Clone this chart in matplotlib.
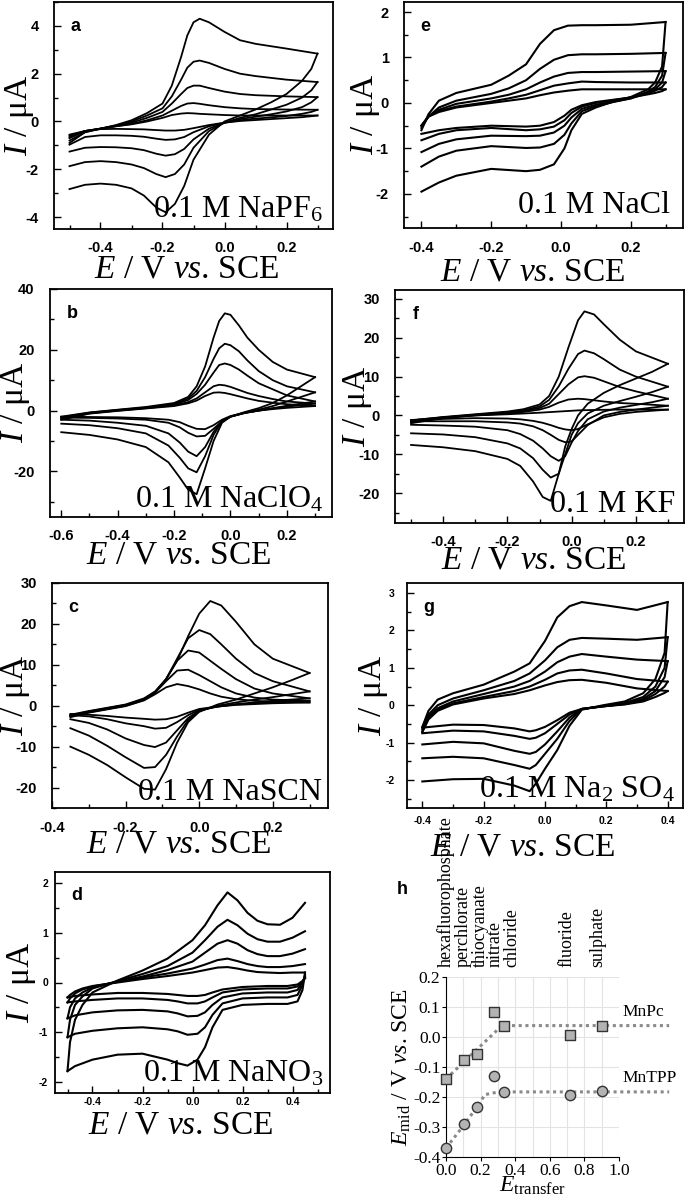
import matplotlib
matplotlib.use('Agg')
import matplotlib.pyplot as plt
from matplotlib.ticker import MultipleLocator, FormatStrFormatter

plt.rcParams['font.family'] = ['Liberation Sans', 'DejaVu Sans']
plt.rcParams['mathtext.fontset'] = 'custom'
plt.rcParams['mathtext.rm'] = 'Liberation Serif'
plt.rcParams['mathtext.it'] = 'Liberation Serif:italic'
plt.rcParams['axes.unicode_minus'] = False

# ---- panel a : 0.1 M NaPF6 ----
a_e_fwd = [-0.5, -0.45, -0.4, -0.35, -0.3, -0.25, -0.2, -0.17, -0.14, -0.12, -0.1, -0.08, -0.05, 0.0, 0.05, 0.1, 0.2, 0.3]
a_i_fwd = [
    [-0.9, -0.45, -0.3, -0.15, 0.05, 0.35, 0.75, 1.5, 2.7, 3.6, 4.15, 4.3, 4.15, 3.75, 3.4, 3.25, 3.05, 2.84],
    [-0.8, -0.45, -0.3, -0.17, 0.0, 0.25, 0.55, 1.05, 1.75, 2.25, 2.5, 2.55, 2.45, 2.2, 2.0, 1.9, 1.75, 1.65],
    [-0.7, -0.4, -0.3, -0.18, -0.05, 0.15, 0.4, 0.75, 1.15, 1.4, 1.5, 1.5, 1.4, 1.25, 1.15, 1.1, 1.05, 1.02],
    [-0.6, -0.4, -0.3, -0.2, -0.1, 0.05, 0.25, 0.45, 0.65, 0.75, 0.77, 0.74, 0.68, 0.6, 0.55, 0.52, 0.5, 0.49],
    [-0.55, -0.4, -0.3, -0.2, -0.12, 0.0, 0.15, 0.27, 0.33, 0.35, 0.34, 0.32, 0.3, 0.27, 0.25, 0.25, 0.25, 0.25],
]
a_e_rev = [0.3, 0.28, 0.25, 0.2, 0.15, 0.1, 0.05, 0.0, -0.05, -0.1, -0.13, -0.16, -0.19, -0.22, -0.26, -0.3, -0.35, -0.4, -0.45, -0.5]
a_i_rev = [
    [2.84, 2.2, 1.7, 1.15, 0.8, 0.5, 0.25, 0.0, -0.55, -1.6, -2.7, -3.45, -3.8, -3.6, -3.1, -2.8, -2.65, -2.6, -2.65, -2.83],
    [1.65, 1.3, 1.0, 0.7, 0.5, 0.3, 0.15, -0.05, -0.4, -1.1, -1.8, -2.2, -2.33, -2.2, -1.95, -1.8, -1.7, -1.66, -1.7, -1.87],
    [1.02, 0.8, 0.6, 0.42, 0.3, 0.2, 0.1, -0.05, -0.3, -0.75, -1.15, -1.37, -1.43, -1.35, -1.2, -1.12, -1.08, -1.07, -1.1, -1.26],
    [0.49, 0.4, 0.32, 0.23, 0.17, 0.12, 0.05, -0.05, -0.2, -0.45, -0.65, -0.75, -0.77, -0.72, -0.64, -0.6, -0.58, -0.58, -0.65, -0.97],
    [0.25, 0.22, 0.18, 0.14, 0.1, 0.06, 0.02, -0.05, -0.15, -0.28, -0.35, -0.38, -0.38, -0.36, -0.33, -0.32, -0.31, -0.32, -0.4, -0.66],
]

# ---- panel b : 0.1 M NaClO4 ----
b_e_fwd = [-0.6, -0.5, -0.4, -0.3, -0.2, -0.15, -0.12, -0.09, -0.06, -0.04, -0.02, 0.0, 0.03, 0.06, 0.1, 0.15, 0.2, 0.3]
b_i_fwd = [
    [-2.0, -0.6, 0.3, 1.2, 2.5, 4.5, 8, 14.5, 24, 29.5, 32, 31.5, 28, 24, 20, 16, 13.5, 11],
    [-2.2, -0.7, 0.2, 1.0, 2.2, 4, 6.5, 11, 17, 20.5, 22, 21.5, 19.5, 16.5, 13, 10, 8, 6],
    [-2.5, -0.8, 0.1, 0.9, 2, 3.5, 5.5, 8.5, 12.5, 15, 15.5, 15, 13.5, 11.5, 9, 7, 5, 3],
    [-2.8, -0.9, 0.0, 0.8, 1.7, 2.8, 4, 6, 8, 8.5, 8.3, 7.8, 6.8, 5.8, 4.8, 3.8, 3, 2.3],
    [-3.0, -1.0, -0.1, 0.7, 1.5, 2.4, 3.3, 4.8, 5.9, 6.0, 5.8, 5.4, 4.7, 4, 3.2, 2.6, 2.1, 1.5],
]
b_e_rev = [0.3, 0.25, 0.2, 0.15, 0.1, 0.05, 0.0, -0.03, -0.06, -0.09, -0.12, -0.15, -0.18, -0.22, -0.3, -0.4, -0.5, -0.6]
b_i_rev = [
    [11, 8, 5, 2.5, 0.8, -0.5, -2, -4, -10, -19, -27.5, -26, -22, -17, -12, -9.5, -8, -7.1],
    [6, 4.5, 3, 1.5, 0.3, -0.7, -2, -3.5, -8, -15, -20.3, -19, -15.5, -11.5, -7.5, -5.8, -4.8, -4.3],
    [3, 2.3, 1.6, 0.8, 0, -0.8, -2, -3.5, -7, -12, -15, -13.5, -10.5, -7.5, -5, -4, -3.3, -3],
    [2.3, 1.8, 1.3, 0.7, 0, -0.8, -2, -3.5, -6, -8.3, -8.5, -7.3, -5.5, -4, -3, -2.6, -2.4, -2.3],
    [1.5, 1.2, 0.9, 0.5, 0, -0.7, -1.8, -3, -4.8, -6.1, -6, -5, -3.8, -3, -2.5, -2.2, -2.1, -2.0],
]

# ---- panel c : 0.1 M NaSCN ----
c_e_fwd = [-0.35, -0.3, -0.25, -0.2, -0.15, -0.12, -0.09, -0.06, -0.03, 0.0, 0.03, 0.06, 0.1, 0.15, 0.2, 0.3]
c_i_fwd = [
    [-2.2, -1.3, -0.5, 0.3, 1.8, 3.5, 6.5, 11, 17, 22.5, 25.6, 24.5, 20.5, 15, 11.5, 8],
    [-2.4, -1.4, -0.6, 0.2, 1.6, 3.3, 6.5, 11.5, 16.5, 18.5, 17.5, 15, 11.5, 8, 6, 3.5],
    [-2.5, -1.5, -0.7, 0.1, 1.5, 3.2, 6.5, 11, 13.5, 13, 11, 9, 6.5, 4.2, 3, 1.8],
    [-2.6, -1.6, -0.8, 0.0, 1.4, 3.2, 6, 8.6, 8.8, 7.5, 6, 4.5, 3, 2, 1.5, 1.2],
    [-2.8, -1.7, -0.9, -0.1, 1.3, 2.8, 4.5, 5.3, 4.8, 4, 3, 2.2, 1.6, 1.2, 1.0, 0.8],
]
c_e_rev = [0.3, 0.25, 0.2, 0.15, 0.1, 0.05, 0.0, -0.03, -0.06, -0.09, -0.12, -0.15, -0.2, -0.25, -0.3, -0.35]
c_i_rev = [
    [8, 6.2, 4.5, 3, 1.5, 0.3, -1.5, -4, -9, -15.5, -20.5, -20.3, -17.5, -14.5, -12, -10],
    [3.5, 2.8, 2.1, 1.5, 0.8, 0.0, -1.3, -3.5, -7.5, -12, -15, -15.2, -12.6, -9.8, -7.3, -5.5],
    [1.8, 1.5, 1.2, 0.8, 0.4, -0.2, -1.2, -3, -6, -9, -10.1, -9.6, -8, -5.8, -4.2, -3.3],
    [1.2, 1.0, 0.8, 0.6, 0.3, -0.2, -1.0, -2.3, -4, -5.4, -5.6, -5.0, -4.3, -3.3, -2.6, -2.3],
    [0.8, 0.7, 0.6, 0.4, 0.2, -0.2, -0.8, -1.7, -2.7, -3.3, -3.4, -3.2, -2.9, -2.5, -2.2, -2.0],
]

# ---- panel d : 0.1 M NaNO3 ----
d_e_fwd = [-0.5, -0.49, -0.47, -0.44, -0.4, -0.3, -0.2, -0.1, 0.0, 0.05, 0.1, 0.14, 0.18, 0.22, 0.26, 0.3, 0.35, 0.4, 0.45]
d_i_fwd = [
    [-1.78, -1.2, -0.75, -0.45, -0.2, 0.04, 0.24, 0.48, 0.85, 1.15, 1.55, 1.81, 1.65, 1.4, 1.24, 1.17, 1.16, 1.3, 1.6],
    [-1.1, -0.75, -0.45, -0.28, -0.12, 0.03, 0.17, 0.33, 0.6, 0.85, 1.12, 1.26, 1.15, 0.98, 0.87, 0.82, 0.82, 0.9, 1.03],
    [-0.72, -0.5, -0.32, -0.2, -0.1, 0.02, 0.12, 0.25, 0.42, 0.6, 0.78, 0.85, 0.78, 0.65, 0.57, 0.53, 0.53, 0.58, 0.67],
    [-0.4, -0.32, -0.22, -0.14, -0.08, 0.01, 0.1, 0.18, 0.28, 0.36, 0.45, 0.48, 0.43, 0.37, 0.33, 0.31, 0.31, 0.33, 0.37],
    [-0.3, -0.25, -0.18, -0.12, -0.07, 0.0, 0.07, 0.13, 0.2, 0.25, 0.3, 0.31, 0.28, 0.24, 0.21, 0.2, 0.19, 0.2, 0.2],
]
d_e_rev = [0.45, 0.44, 0.42, 0.38, 0.3, 0.2, 0.12, 0.08, 0.05, 0.02, -0.02, -0.06, -0.1, -0.2, -0.3, -0.4, -0.47, -0.5]
d_i_rev = [
    [0.2, -0.15, -0.38, -0.43, -0.43, -0.45, -0.55, -0.9, -1.3, -1.55, -1.67, -1.62, -1.55, -1.43, -1.45, -1.55, -1.68, -1.78],
    [0.15, -0.05, -0.25, -0.3, -0.3, -0.32, -0.42, -0.65, -0.9, -1.03, -1.05, -0.98, -0.94, -0.9, -0.92, -0.97, -1.03, -1.1],
    [0.12, 0.0, -0.15, -0.2, -0.2, -0.22, -0.3, -0.45, -0.6, -0.67, -0.68, -0.62, -0.58, -0.55, -0.56, -0.6, -0.66, -0.72],
    [0.1, 0.02, -0.08, -0.12, -0.12, -0.14, -0.2, -0.3, -0.38, -0.42, -0.42, -0.38, -0.35, -0.32, -0.32, -0.35, -0.38, -0.4],
    [0.08, 0.03, -0.04, -0.07, -0.07, -0.09, -0.14, -0.2, -0.25, -0.27, -0.27, -0.25, -0.23, -0.21, -0.21, -0.24, -0.27, -0.3],
]

# ---- panel e : 0.1 M NaCl ----
e_e_fwd = [-0.4, -0.38, -0.35, -0.3, -0.2, -0.15, -0.1, -0.06, -0.02, 0.02, 0.06, 0.1, 0.2, 0.3]
e_i_fwd = [
    [-0.6, -0.25, 0.05, 0.22, 0.4, 0.6, 0.85, 1.3, 1.6, 1.7, 1.71, 1.71, 1.72, 1.78],
    [-0.55, -0.3, -0.1, 0.05, 0.2, 0.32, 0.5, 0.75, 0.95, 1.05, 1.07, 1.07, 1.08, 1.1],
    [-0.5, -0.3, -0.15, -0.02, 0.1, 0.18, 0.3, 0.45, 0.58, 0.66, 0.68, 0.68, 0.69, 0.7],
    [-0.5, -0.3, -0.18, -0.08, 0.03, 0.1, 0.18, 0.28, 0.38, 0.43, 0.47, 0.46, 0.45, 0.45],
    [-0.5, -0.3, -0.2, -0.1, 0.0, 0.05, 0.1, 0.17, 0.23, 0.27, 0.3, 0.3, 0.3, 0.3],
]
e_e_rev = [0.3, 0.29, 0.27, 0.25, 0.2, 0.15, 0.1, 0.06, 0.03, 0.01, -0.02, -0.06, -0.1, -0.2, -0.3, -0.35, -0.4]
e_i_rev = [
    [1.78, 0.8, 0.45, 0.3, 0.13, 0.03, -0.1, -0.24, -0.6, -1.0, -1.35, -1.47, -1.5, -1.45, -1.6, -1.75, -1.95],
    [1.1, 0.6, 0.35, 0.25, 0.1, 0.02, -0.07, -0.18, -0.45, -0.7, -0.9, -0.98, -0.99, -0.95, -1.05, -1.18, -1.4],
    [0.7, 0.45, 0.3, 0.22, 0.1, 0.03, -0.04, -0.13, -0.32, -0.5, -0.65, -0.72, -0.73, -0.72, -0.8, -0.9, -1.08],
    [0.45, 0.35, 0.27, 0.21, 0.12, 0.06, 0.0, -0.08, -0.22, -0.38, -0.52, -0.58, -0.6, -0.55, -0.6, -0.68, -0.82],
    [0.3, 0.26, 0.22, 0.19, 0.12, 0.07, 0.02, -0.05, -0.15, -0.28, -0.42, -0.5, -0.52, -0.5, -0.55, -0.6, -0.68],
]

# ---- panel f : 0.1 M KF ----
f_e_fwd = [-0.5, -0.4, -0.3, -0.2, -0.15, -0.1, -0.07, -0.04, -0.01, 0.02, 0.04, 0.07, 0.1, 0.15, 0.2, 0.3]
f_i_fwd = [
    [-1.3, -0.4, 0.3, 1.0, 1.6, 2.8, 5, 10, 17.5, 24.5, 26.8, 26, 23.5, 19.5, 16.5, 13.3],
    [-1.5, -0.5, 0.2, 0.8, 1.3, 2.3, 4, 7.5, 12, 15.8, 16.7, 16, 14.5, 11.8, 10, 7.4],
    [-1.8, -0.6, 0.1, 0.6, 1.1, 1.9, 3, 5.5, 8, 9.8, 10.1, 9.7, 8.8, 7.3, 6.2, 4.3],
    [-2.0, -0.7, 0.0, 0.5, 0.9, 1.5, 2.2, 3.3, 4.1, 4.3, 4.2, 3.9, 3.6, 3.2, 3.0, 2.5],
    [-1.2, -0.5, 0.0, 0.3, 0.5, 0.7, 0.85, 1.0, 1.15, 1.3, 1.35, 1.4, 1.45, 1.5, 1.5, 1.5],
]
f_e_rev = [0.3, 0.25, 0.2, 0.15, 0.1, 0.05, 0.02, 0.0, -0.02, -0.04, -0.065, -0.09, -0.12, -0.16, -0.2, -0.3, -0.4, -0.5]
f_i_rev = [
    [13.3, 11.2, 9.5, 7.8, 5.8, 3, 0, -3.5, -8, -15, -22, -21, -17, -13, -11.2, -9.2, -8.2, -7.6],
    [7.4, 6, 4.8, 3.7, 2.5, 0.5, -2, -5, -10, -15, -16, -14, -11, -8.5, -7.2, -5.6, -4.9, -4.6],
    [4.3, 3.4, 2.7, 2.0, 1.0, -1, -4, -7, -10.5, -11.7, -10.5, -8.5, -6.5, -4.8, -3.8, -2.9, -2.6, -2.4],
    [2.5, 2, 1.5, 0.9, 0, -2.5, -5, -6.7, -6.9, -6.3, -5, -3.8, -2.8, -2.1, -1.8, -1.5, -1.5, -1.5],
    [1.5, 1.2, 0.9, 0.4, -0.5, -2.3, -3.5, -3.8, -3.6, -3.2, -2.5, -1.9, -1.4, -1.0, -0.8, -0.7, -0.9, -1.2],
]

# ---- panel g : 0.1 M Na2SO4 ----
g_e_fwd = [-0.4, -0.38, -0.35, -0.3, -0.2, -0.1, -0.05, 0.0, 0.04, 0.08, 0.12, 0.2, 0.3, 0.4]
g_i_fwd = [
    [-0.58, -0.15, 0.15, 0.32, 0.55, 0.9, 1.12, 1.72, 2.35, 2.65, 2.76, 2.67, 2.55, 2.76],
    [-0.6, -0.25, 0.0, 0.18, 0.4, 0.65, 0.85, 1.2, 1.55, 1.75, 1.8, 1.78, 1.75, 1.82],
    [-0.65, -0.3, -0.08, 0.1, 0.3, 0.5, 0.65, 0.9, 1.15, 1.3, 1.37, 1.3, 1.22, 1.18],
    [-0.7, -0.35, -0.12, 0.05, 0.22, 0.38, 0.5, 0.68, 0.85, 0.93, 0.95, 0.85, 0.7, 0.63],
    [-0.72, -0.38, -0.15, 0.02, 0.18, 0.3, 0.4, 0.53, 0.62, 0.67, 0.68, 0.6, 0.45, 0.38],
]
g_e_rev = [0.4, 0.39, 0.36, 0.32, 0.26, 0.19, 0.12, 0.08, 0.04, 0.0, -0.03, -0.05, -0.1, -0.2, -0.3, -0.4]
g_i_rev = [
    [2.76, 1.4, 0.7, 0.32, 0.1, 0.0, -0.12, -0.55, -1.2, -1.7, -2.1, -2.3, -2.15, -1.97, -1.98, -2.04],
    [1.82, 1.0, 0.5, 0.22, 0.06, -0.02, -0.1, -0.42, -0.9, -1.3, -1.6, -1.7, -1.6, -1.42, -1.38, -1.42],
    [1.18, 0.75, 0.38, 0.17, 0.04, -0.03, -0.1, -0.33, -0.7, -1.05, -1.25, -1.3, -1.22, -1.02, -0.98, -1.05],
    [0.63, 0.5, 0.3, 0.13, 0.03, -0.03, -0.1, -0.25, -0.5, -0.75, -0.87, -0.9, -0.82, -0.7, -0.68, -0.75],
    [0.38, 0.33, 0.22, 0.1, 0.02, -0.03, -0.1, -0.2, -0.4, -0.58, -0.67, -0.7, -0.62, -0.53, -0.52, -0.6],
]

# ---- panel h : E_mid vs E_transfer ----
anions = ['hexafluorophosphate', 'perchlorate', 'thiocyanate', 'nitrate', 'chloride', 'fluoride', 'sulphate']
e_transfer = [0.0, 0.106, 0.178, 0.275, 0.337, 0.714, 0.903]
mnpc_emid = [-0.14, -0.076, -0.057, 0.082, 0.036, 0.008, 0.036]
mntpp_emid = [-0.37, -0.29, -0.233, -0.13, -0.183, -0.192, -0.179]
mnpc_fit_x = [0.0, 0.323, 1.29]
mnpc_fit_y = [-0.14, 0.038, 0.038]
mntpp_fit_x = [0.0, 0.091, 0.168, 0.226, 0.304, 1.29]
mntpp_fit_y = [-0.37, -0.303, -0.242, -0.192, -0.183, -0.183]
anion_label_x = [0.0, 0.098, 0.197, 0.283, 0.38, 0.70, 0.88]

W, H = 685, 1196
fig = plt.figure(figsize=(W / 100, H / 100), dpi=100)


def add_axes(left, top, right, bottom):
    return fig.add_axes([left / W, 1 - bottom / H, (right - left) / W, (bottom - top) / H])


def cv_panel(box, e_fwd, i_fwd, e_rev, i_rev, xlim, ylim, ymaj, ymin, letter, salt,
             tick_fs=10.5, lw=1.3, pads=(9, 11), xlab=(0.46, 34), ylab_x=15, salt_pos=(0.965, 11)):
    ax = add_axes(*box)
    w_px = box[2] - box[0]
    h_px = box[3] - box[1]
    for fw, rv in zip(i_fwd, i_rev):
        ax.plot(e_fwd, fw, color='black', lw=lw, solid_joinstyle='round')
        ax.plot(e_rev, rv, color='black', lw=lw, solid_joinstyle='round')
    ax.set_xlim(*xlim)
    ax.set_ylim(*ylim)
    ax.xaxis.set_major_locator(MultipleLocator(0.2))
    ax.xaxis.set_minor_locator(MultipleLocator(0.1))
    ax.yaxis.set_major_locator(MultipleLocator(ymaj))
    ax.yaxis.set_minor_locator(MultipleLocator(ymin))
    ax.xaxis.set_major_formatter(FormatStrFormatter('%.1f'))
    ax.yaxis.set_major_formatter(FormatStrFormatter('%d'))
    ax.tick_params(which='both', direction='in', width=1.0, labelsize=tick_fs)
    ax.tick_params(which='major', length=5)
    ax.tick_params(which='minor', length=3)
    ax.tick_params(axis='x', which='both', pad=pads[0])
    ax.tick_params(axis='y', which='both', pad=pads[1])
    for lbl in ax.get_xticklabels() + ax.get_yticklabels():
        lbl.set_fontweight('bold')
    for s in ax.spines.values():
        s.set_linewidth(1.3)
    ax.set_xlabel(r'$E$ / V $vs$. SCE', family='Liberation Serif', fontsize=24)
    ax.xaxis.set_label_coords(xlab[0], -xlab[1] / h_px)
    ax.xaxis.label.set_va('center')
    ax.set_ylabel(r'$I$ / μA', family='Liberation Serif', fontsize=24)
    ax.yaxis.set_label_coords((ylab_x - box[0]) / w_px, 0.5)
    ax.yaxis.label.set_va('center')
    ax.text(0.06, 0.93, letter, transform=ax.transAxes, fontsize=13, fontweight='bold',
            ha='left', va='top')
    ax.text(salt_pos[0], salt_pos[1] / h_px, '0.1 M ' + salt, transform=ax.transAxes,
            family='Liberation Serif', fontsize=23, ha='right', va='baseline')
    return ax


cv_panel((54, 2, 333, 229), a_e_fwd, a_i_fwd, a_e_rev, a_i_rev, (-0.55, 0.35), (-4.5, 5.0),
         2, 1, 'a', r'NaPF$_6$', xlab=(0.475, 40), ylab_x=19, salt_pos=(0.964, 11))
cv_panel((404, 2, 683, 228), e_e_fwd, e_i_fwd, e_e_rev, e_i_rev, (-0.45, 0.35), (-2.75, 2.22),
         1, 0.5, 'e', 'NaCl', lw=1.5, xlab=(0.46, 44), ylab_x=366, salt_pos=(0.953, 15))
cv_panel((50, 289, 332, 517), b_e_fwd, b_i_fwd, b_e_rev, b_i_rev, (-0.64, 0.36), (-35, 40),
         20, 10, 'b', r'NaClO$_4$', xlab=(0.457, 38), ylab_x=16, salt_pos=(0.968, 10))
cv_panel((395, 290, 684, 523), f_e_fwd, f_i_fwd, f_e_rev, f_i_rev, (-0.55, 0.35), (-27.7, 32.3),
         10, 5, 'f', 'KF', xlab=(0.48, 37), ylab_x=358, salt_pos=(0.969, 11))
cv_panel((52, 583, 328, 808), c_e_fwd, c_i_fwd, c_e_rev, c_i_rev, (-0.4, 0.35), (-25, 30),
         10, 5, 'c', 'NaSCN', xlab=(0.457, 36), ylab_x=16, salt_pos=(0.978, 8))
cv_panel((407, 583, 683, 808), g_e_fwd, g_i_fwd, g_e_rev, g_i_rev, (-0.45, 0.45), (-2.75, 3.27),
         1, 0.5, 'g', r'Na$_2$ SO$_4$', tick_fs=7.5, lw=1.5, pads=(6, 9),
         xlab=(0.417, 39), ylab_x=373, salt_pos=(0.971, 10))
cv_panel((55, 872, 330, 1093), d_e_fwd, d_i_fwd, d_e_rev, d_i_rev, (-0.55, 0.55), (-2.22, 2.22),
         1, 0.5, 'd', r'NaNO$_3$', tick_fs=7.5, lw=1.5, pads=(3, 5),
         xlab=(0.458, 32), ylab_x=22, salt_pos=(0.975, 11))

# ---- panel h ----
ax = add_axes(446, 977, 619, 1157)
ax.set_xlim(0, 1.0)
ax.set_ylim(-0.4, 0.2)
ax.xaxis.set_major_locator(MultipleLocator(0.2))
ax.xaxis.set_minor_locator(MultipleLocator(0.1))
ax.yaxis.set_major_locator(MultipleLocator(0.1))
ax.xaxis.set_major_formatter(FormatStrFormatter('%.1f'))
ax.yaxis.set_major_formatter(FormatStrFormatter('%.1f'))
ax.grid(True, which='both', color='#e3e3e3', lw=0.8)
ax.set_axisbelow(True)
ax.spines['top'].set_visible(False)
ax.spines['right'].set_visible(False)
ax.tick_params(which='both', direction='out', length=3, labelsize=12.5, pad=1)
ax.tick_params(which='minor', length=0)
for lbl in ax.get_xticklabels() + ax.get_yticklabels():
    lbl.set_family('Liberation Serif')
ax.plot(mnpc_fit_x, mnpc_fit_y, ls=(0, (1, 1.2)), color='#8a8a8a', lw=2.2, clip_on=False, zorder=2)
ax.plot(mntpp_fit_x, mntpp_fit_y, ls=(0, (1, 1.2)), color='#8a8a8a', lw=2.2, clip_on=False, zorder=2)
ax.scatter(e_transfer, mnpc_emid, marker='s', s=42, facecolor='#b3b3b3', edgecolor='#333333',
           lw=1.0, zorder=3, clip_on=False)
ax.scatter(e_transfer, mntpp_emid, marker='o', s=55, facecolor='#b3b3b3', edgecolor='#333333',
           lw=1.0, zorder=3, clip_on=False)
ax.text(1.02, 0.055, 'MnPc', family='Liberation Serif', fontsize=12.5, ha='left', va='bottom')
ax.text(1.02, -0.165, 'MnTPP', family='Liberation Serif', fontsize=12.5, ha='left', va='bottom')
for name, lx in zip(anions, anion_label_x):
    ax.text(lx, 0.232, name, rotation=90, family='Liberation Serif', fontsize=13,
            ha='center', va='bottom')
ax.set_ylabel(r'$E_{\mathrm{mid}}$ / V $vs$. SCE', family='Liberation Serif', fontsize=17, labelpad=0)
ax.set_xlabel(r'$E_{\mathrm{transfer}}$', family='Liberation Serif', fontsize=17, labelpad=-3)
ax.text(-0.283, 0.463, 'h', fontsize=13, fontweight='bold', ha='left', va='bottom')

fig.savefig('out.png', dpi=100)
